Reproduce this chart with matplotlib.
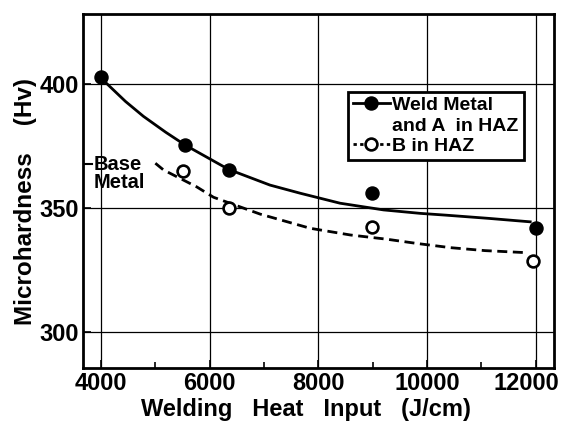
import matplotlib
matplotlib.use("Agg")
import matplotlib.pyplot as plt
import matplotlib.transforms as mtransforms
from matplotlib.lines import Line2D

# measured points
weld_x = [4000, 5550, 6350, 8980, 12000]
weld_y = [402.7, 375.3, 365.5, 356.1, 342.1]
hazb_x = [5500, 6350, 8980, 11960]
hazb_y = [365.0, 350.2, 342.4, 328.7]

# hand-drawn trend curves
weld_curve_x = [4100, 4450, 4780, 5190, 5550, 6350, 7110, 7670, 8400, 9200, 9880, 10340, 11130, 11900]
weld_curve_y = [400.3, 393.0, 387.0, 380.6, 375.4, 365.6, 359.3, 356.0, 352.0, 349.3, 347.9, 347.2, 345.9, 344.5]
hazb_curve_x = [5000, 5150, 5760, 6070, 6930, 7850, 8590, 9260, 9810, 10430, 11070, 11810]
hazb_curve_y = [368.1, 365.4, 358.6, 354.4, 347.6, 341.9, 339.2, 337.5, 335.8, 334.1, 332.9, 332.1]

base_metal_hv = 367.8

x_ticks = [4000, 6000, 8000, 10000, 12000]
x_minor = [5000, 7000, 9000, 11000]
y_ticks = [300, 350, 400]

plt.rcParams["font.family"] = ["Liberation Sans", "DejaVu Sans"]
plt.rcParams["font.weight"] = "bold"
plt.rcParams["axes.labelweight"] = "bold"

fig = plt.figure(figsize=(5.65, 4.25), dpi=100)
ax = fig.add_axes([0.1464, 0.1334, 0.8346, 0.8336])

ax.set_xlim(3663, 12343)
ax.set_ylim(285.5, 428.2)

ax.set_xticks(x_ticks)
ax.set_xticks(x_minor, minor=True)
ax.set_yticks(y_ticks)
ax.grid(True, which="major", color="black", lw=0.9)
ax.set_axisbelow(True)

ax.tick_params(axis="both", which="major", direction="in", length=6, width=1.2,
               labelsize=17)
ax.tick_params(axis="x", which="major", pad=2.5)
ax.tick_params(axis="y", which="major", pad=2.5)
ax.tick_params(axis="x", which="minor", direction="in", length=4.5, width=1.2)
for s in ax.spines.values():
    s.set_linewidth(2)

lw = 2.0
ax.plot(weld_curve_x, weld_curve_y, color="black", lw=lw)
ax.plot(hazb_curve_x, hazb_curve_y, color="black", lw=lw, linestyle=(0, (3.6, 2.0)))
ax.plot(weld_x, weld_y, "o", color="black", ms=9.4, zorder=3)
ax.plot(hazb_x, hazb_y, "o", mfc="white", mec="black", mew=1.9, ms=8.5, zorder=3)

# base metal level
ax.axhline(base_metal_hv, xmin=0, xmax=0.02, color="black", lw=1.5)
ax.text(0.024, base_metal_hv - 3.8, "Base\nMetal", transform=ax.get_yaxis_transform(),
        ha="left", va="center", fontsize=14.5, linespacing=0.92)

ax.set_xlabel("Welding   Heat   Input   (J/cm)", fontsize=17)
ax.set_ylabel("Microhardness    (Hv)", fontsize=17.5)
ax.xaxis.set_label_coords(0.4735, -0.085)
ax.yaxis.set_label_coords(-0.097, 0.472)

fig.canvas.draw()
# keep the last x label inside the picture
last = ax.get_xticklabels()[-1]
last.set_transform(last.get_transform() +
                   mtransforms.ScaledTranslation(-9 / 100, 0, fig.dpi_scale_trans))

h1 = Line2D([], [], color="black", lw=lw, marker="o", ms=9.4)
h_blank = Line2D([], [], linestyle="none")
h2 = Line2D([], [], color="black", lw=lw, linestyle=(0, (1.2, 1.2)),
            marker="o", mfc="white", mec="black", mew=1.9, ms=8.5)
leg = ax.legend([h1, h_blank, h2], ["Weld Metal", "and A  in HAZ", "B in HAZ"],
                loc="upper left", bbox_to_anchor=(0.562, 0.781), borderaxespad=0,
                fontsize=14, handlelength=1.9, handletextpad=0.15, borderpad=0.25,
                labelspacing=0.15, fancybox=False, framealpha=1, edgecolor="black",
                numpoints=1)
leg.get_frame().set_linewidth(2)

fig.savefig("out.png", dpi=100)
